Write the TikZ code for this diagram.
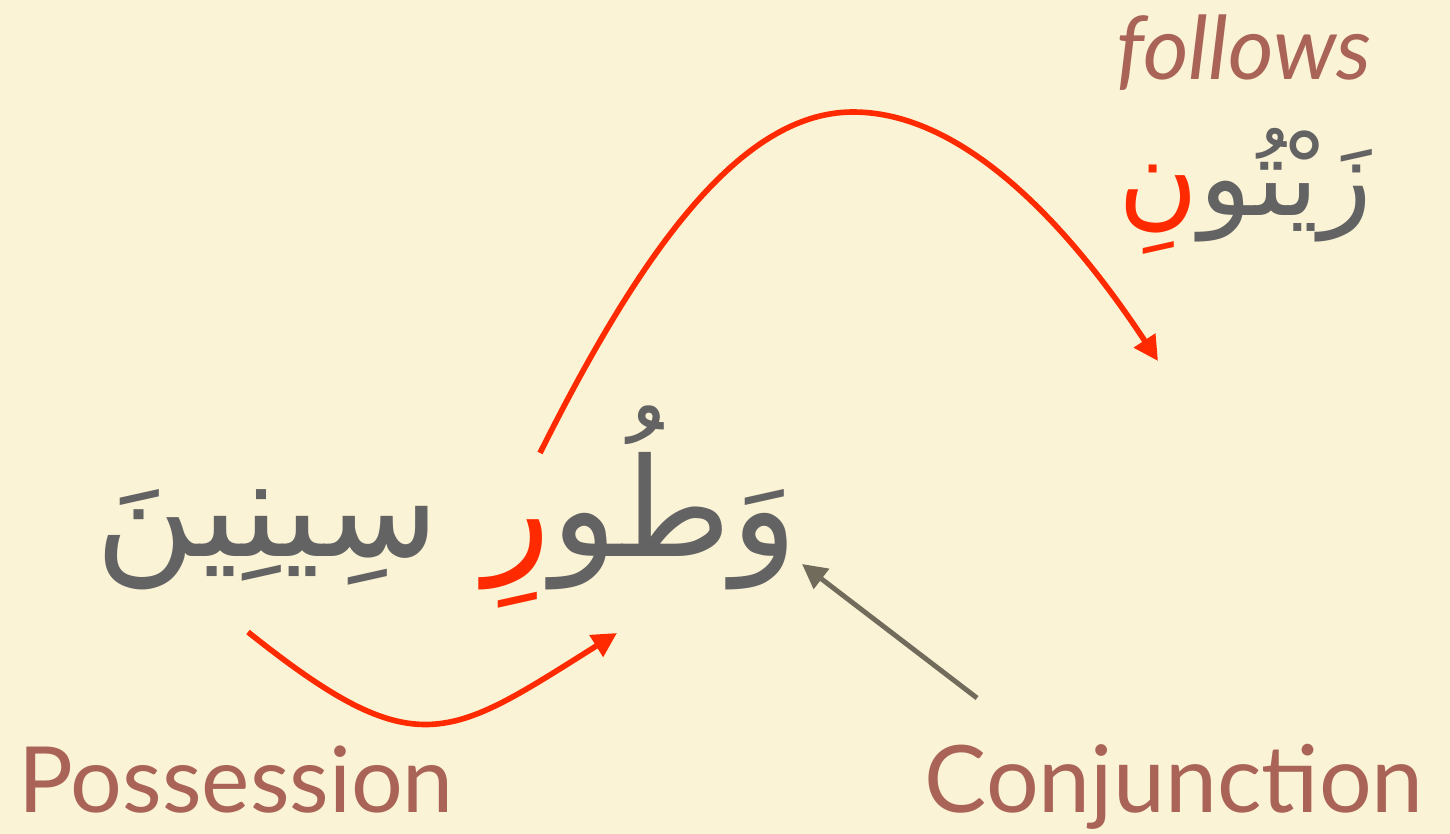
\documentclass[tikz,border=0pt]{standalone}
\usepackage{fontspec}
\setmainfont{Lato}
\newfontfamily\arabicfont[Script=Arabic]{DejaVu Sans}
\TeXXeTstate=1
\usetikzlibrary{positioning, arrows.meta}
\definecolor{parchment}{HTML}{FBF3D6}
\definecolor{inkGrey}{HTML}{636363}
\definecolor{caseRed}{HTML}{FF2A00}
\definecolor{tagBrown}{HTML}{A96357}
\definecolor{pointerGrey}{HTML}{716B5B}

\begin{document}
\begin{tikzpicture}[x=0.02cm, y=-0.02cm,
    arabic/.style={text=inkGrey, inner sep=0pt, font=\fontsize{78}{86}\selectfont\arabicfont},
    smallarabic/.style={arabic, font=\fontsize{62}{70}\selectfont\arabicfont},
    caseend/.style={text=caseRed},
    tagtext/.style={text=tagBrown, inner sep=0pt, font=\fontsize{52}{60}\selectfont},
    casearrow/.style={-{Triangle[length=14pt, width=14pt]}, line width=3.2pt, caseRed},
  ]
    \fill[parchment] (0,0) rectangle (1450,834);

    % the phrase: the red case endings sit in nodes of their own, left of their stems
    \node[arabic, anchor=base east] (tur) at (798,556) {\beginR وَطُو\endR};
    \node[arabic, caseend, left=0pt of tur.base west, anchor=base east] (turCase) {\beginR رِ\endR};
    \node[arabic, left=0.9cm of turCase.base west, anchor=base east] (sinin) {\beginR سِينِينَ\endR};

    % the word it points to
    \node[smallarabic, anchor=base east] (zaytun) at (1372,216) {\beginR زَيْتُو\endR};
    \node[smallarabic, caseend, left=0pt of zaytun.base west, anchor=base east] (zaytunCase) {\beginR نِ\endR};
    \node[tagtext, anchor=base east, font=\fontsize{50}{56}\selectfont\itshape] (follows) at (1372,80) {follows};

    % grammar tags
    \node[tagtext, anchor=base west] (poss) at (18,812) {Possession};
    \node[tagtext, anchor=base east, font=\fontsize{53}{60}\selectfont] (conj) at (1424,812) {Conjunction};

    \coordinate (jumpFrom) at (540,453);
    \coordinate (jumpTop) at (853,112);
    \coordinate (jumpTo) at (1158,361);
    \coordinate (possFrom) at (248,632);
    \coordinate (possTo) at (617,633);
    \coordinate (conjFrom) at (977,698);
    \coordinate (conjTo) at (802,564);

    \draw[casearrow] (jumpFrom) .. controls (640,253) and (740,112) .. (jumpTop)
      .. controls (975,112) and (1085,250) .. (jumpTo);
    \draw[casearrow] (possFrom) .. controls (417,767) and (448,739) .. (possTo);
    \draw[-{Triangle[length=14pt, width=14pt]}, line width=2.8pt, pointerGrey] (conjFrom) -- (conjTo);
\end{tikzpicture}
\end{document}
